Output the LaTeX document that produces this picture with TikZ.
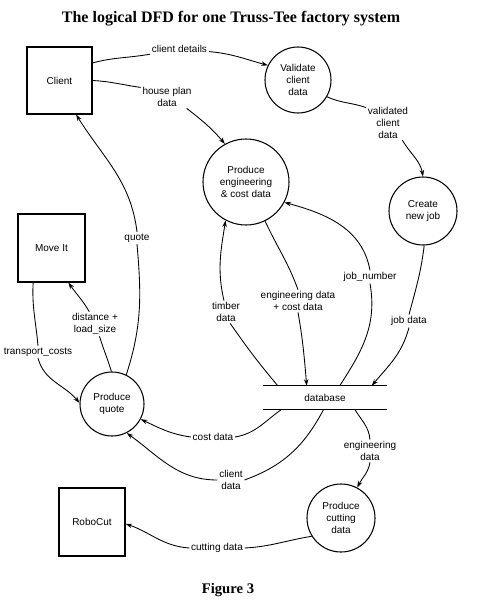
\documentclass[tikz,border=0pt]{standalone}
\usepackage{fontspec}
\setmainfont{Liberation Sans}
\newfontfamily\titlefont{Liberation Serif}
\usetikzlibrary{arrows.meta,calc}
\begin{document}
\begin{tikzpicture}[x=0.75pt,y=0.75pt,
  every node/.style={font=\fontsize{7.5}{8.7}\selectfont, align=center},
  proc/.style={draw, circle, line width=0.8pt, inner sep=0pt},
  ext/.style={draw, rectangle, line width=0.8pt, inner sep=0pt},
  lbl/.style={inner sep=1.2pt},
  flow/.style={line width=0.65pt},
  flowarr/.style={line width=0.65pt, -{Stealth[length=5pt,width=3.4pt]}},
  dbline/.style={line width=1.1pt}]
\useasboundingbox (0,0) rectangle (477,-600);
% title and caption
\node[font=\titlefont\bfseries\fontsize{12}{14}\selectfont] (title) at (231,-19) {The logical DFD for one Truss-Tee factory system};
\node[font=\titlefont\bfseries\fontsize{11}{13}\selectfont] (fig) at (228,-590) {Figure 3};
% externals
\node[ext, minimum width=48.75pt, minimum height=50.25pt] (client) at (59.5,-80.5) {Client};
\node[ext, minimum width=50.25pt, minimum height=51pt] (moveit) at (51.5,-248) {Move It};
\node[ext, minimum width=49.5pt, minimum height=51pt] (robo) at (92,-522) {RoboCut};
% processes
\node[proc, minimum size=49.5pt] (val) at (298,-80) {Validate\\client\\data};
\node[proc, minimum size=64.5pt] (eng) at (246,-182) {Produce\\engineering\\\& cost data};
\node[proc, minimum size=51pt] (job) at (423,-211) {Create\\new job};
\node[proc, minimum size=48pt] (quote) at (112,-404) {Produce\\quote};
\node[proc, minimum size=51pt] (cut) at (341,-518) {Produce\\cutting\\data};
% data store
\node[minimum width=93pt, minimum height=17.25pt, inner sep=0pt] (db) at (325,-397.5) {database};
\draw[dbline] (db.north west) -- (db.north east);
\draw[dbline] (db.south west) -- (db.south east);
% labels
\node[lbl] (lcd) at (179.5,-49) {client details};
\node[lbl] (lhp) at (167,-97) {house plan\\data};
\node[lbl] (lvcd) at (388,-123) {validated\\client\\data};
\node[lbl] (lq) at (137,-238) {quote};
\node[lbl] (ldl) at (95,-324) {distance +\\load\_size};
\node[lbl] (ltc) at (38,-352) {transport\_costs};
\node[lbl] (lcost) at (213,-437) {cost data};
\node[lbl] (lcli) at (231,-480) {client\\data};
\node[lbl] (led) at (370,-451) {engineering\\data};
\node[lbl] (lcut) at (217,-548) {cutting data};
\node[lbl] (ltim) at (226,-312) {timber\\data};
\node[lbl] (lecd) at (298,-301) {engineering data\\+ cost data};
\node[lbl] (ljn) at (370,-277) {job\_number};
\node[lbl] (ljd) at (409,-321) {job data};
% database attachment points
\coordinate (dbtim) at ($(db.north west)+(15,0)$);
\coordinate (dbecd) at ($(db.north west)+(44,0)$);
\coordinate (dbjn) at ($(db.north west)+(77,0)$);
\coordinate (dbjd) at ($(db.north west)+(109,0)$);
\coordinate (dbcost) at ($(db.south west)+(19,0)$);
\coordinate (dbcli) at ($(db.south west)+(61,0)$);
\coordinate (dbed) at ($(db.south west)+(92,0)$);
% flows
\draw[flow] (client.28) to[out=15,in=190] (lcd);
\draw[flowarr] (lcd) to[out=-5,in=165] (val.154);
\draw[flow] (client.east) to[out=-3,in=172] (lhp.160);
\draw[flowarr] (lhp.-30) to[out=-38,in=130] (eng.119);
\draw[flow] (val.-30) to[out=-25,in=160] (lvcd.145);
\draw[flowarr] (lvcd.-50) to[out=-60,in=100] (job.90);
\draw[flow] (quote.64) to[out=72,in=-85] (lq.south);
\draw[flowarr] (lq.north) to[out=97,in=-58] (client.-64);
\draw[flow] (quote.91) to[out=107,in=-73] (ldl.-70);
\draw[flowarr] (ldl.115) to[out=120,in=-55] (moveit.-64);
\draw[flow] (moveit.-118) to[out=-93,in=95] (ltc.north);
\draw[flowarr] (ltc.south) to[out=-75,in=130] (quote.178);
\draw[flow] (dbcost) to[out=-145,in=10] (lcost.east);
\draw[flowarr] (lcost.west) to[out=172,in=-25] (quote.-28);
\draw[flow] (dbcli) to[out=-118,in=20] (lcli.east);
\draw[flowarr] (lcli.west) to[out=180,in=-36] (quote.-63);
\draw[flow] (dbed) to[out=-59,in=95] (led.north);
\draw[flowarr] (led.south) to[out=-100,in=63] (cut.62);
\draw[flow] (cut.212) to[out=189,in=3] (lcut.east);
\draw[flowarr] (lcut.west) to[out=176,in=-19] (robo.-3);
\draw[flow] (dbtim) to[out=130,in=-55] (ltim.-70);
\draw[flowarr] (ltim.100) to[out=103,in=-99] (eng.242);
\draw[flow] (eng.-64) to[out=-65,in=110] (lecd.north);
\draw[flowarr] (lecd.south) to[out=-80,in=95] (dbecd);
\draw[flow] (dbjn) to[out=57,in=-80] (ljn.south);
\draw[flowarr] (ljn.north) to[out=100,in=-15] (eng.-28);
\draw[flow] (job.-88) to[out=-97,in=75] (ljd.north);
\draw[flowarr] (ljd.south) to[out=-105,in=50] (dbjd);
\end{tikzpicture}
\end{document}
